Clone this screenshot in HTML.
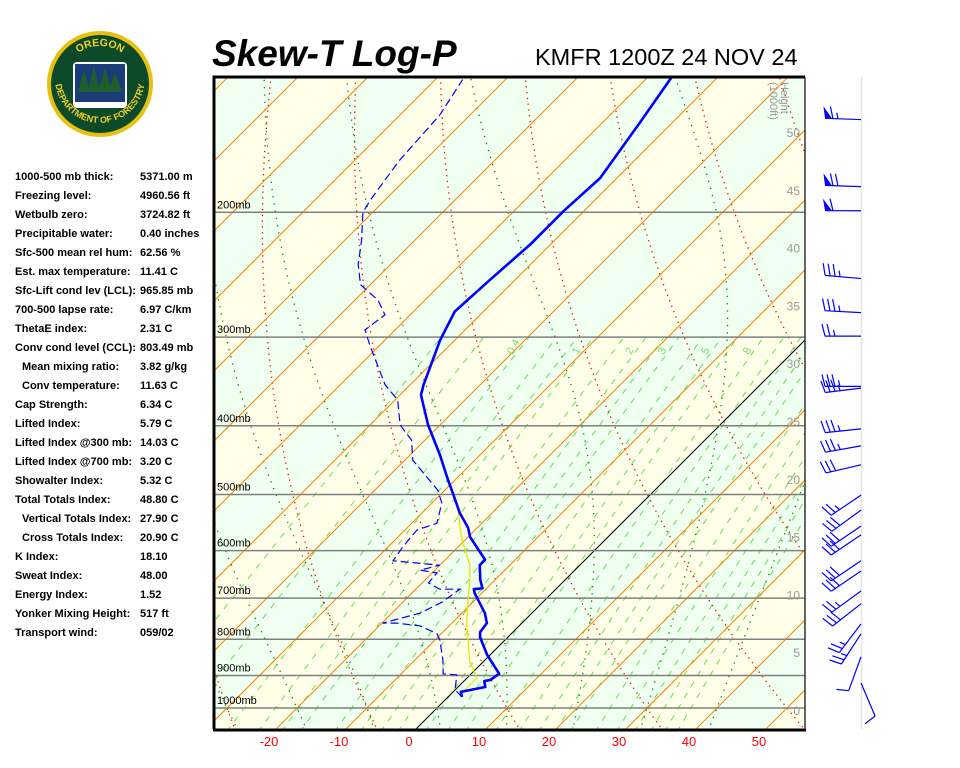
<!DOCTYPE html>
<html><head><meta charset="utf-8"><style>
html,body{margin:0;padding:0;background:#fff;width:960px;height:768px;overflow:hidden}
svg{display:block}
text{font-family:"Liberation Sans",Arial,sans-serif}
</style></head><body>
<svg id="root" width="960" height="768" viewBox="0 0 960 768" xmlns="http://www.w3.org/2000/svg">
<defs><clipPath id="plotclip"><rect x="214" y="77" width="591" height="652"/></clipPath>
<path id="arcTop" d="M 62 84 A 38 38 0 0 1 138 84"/>
<path id="arcBot" d="M 55 78 A 45 45 0 0 0 145 78"/></defs>
<g>
<circle cx="100" cy="84" r="53" fill="#e8c010"/>
<circle cx="100" cy="84" r="49" fill="#0d4a2a"/>
<text font-size="10.5" font-weight="bold" fill="#f0d020"><textPath href="#arcTop" startOffset="50%" text-anchor="middle">OREGON</textPath></text>
<text font-size="9" font-weight="bold" fill="#f0d020"><textPath href="#arcBot" startOffset="50%" text-anchor="middle">DEPARTMENT OF FORESTRY</textPath></text>
<rect x="73" y="62" width="54" height="46" fill="#fff" rx="4"/>
<rect x="75" y="64" width="50" height="28" fill="#1a3d7a"/>
<path d="M78 92 L84 70 L90 92 Z M88 92 L94 66 L100 92 Z M98 92 L105 68 L112 92 Z M108 92 L115 72 L122 92 Z" fill="#1d5e2a"/>
<rect x="75" y="92" width="50" height="10" fill="#1a3d7a"/>
</g>
<text x="212" y="66" font-size="37" font-weight="bold" font-style="italic">Skew-T Log-P</text>
<text x="535" y="65" font-size="23.5">KMFR 1200Z 24 NOV 24</text>
<g id="stats"></g>
<g id="plot"></g>
<g id="winds"></g>
</svg>
<script>
// ---------- data ----------
const tempP=[965,949,934,916,913,895,842,794,781,759,735,688,680,678,660,629,618,574,557,531,493,477,440,399,362,350,303,276,249,222,199,179,150,129];
const tempT=[2.0,1.1,3.9,2.9,3.6,4.0,-0.4,-4.0,-4.7,-5.0,-6.7,-11.1,-11.7,-10.6,-12.1,-14.3,-14.3,-19.7,-21.3,-24.6,-29.0,-31.0,-35.7,-41.7,-47.0,-48.1,-52.1,-54.1,-53.6,-52.9,-52.9,-52.4,-54.6,-56.6];
const dewP=[965,943,898,895,856,802,786,766,759,759,735,709,680,680,666,645,639,629,620,593,561,549,514,493,447,419,399,368,350,308,293,279,266,253,237,219,200,192,169,146,130];
const dewT=[2.0,0.0,-1.9,-4.0,-6.0,-9.3,-10.6,-14.1,-17.9,-19.9,-16.0,-14.4,-13.7,-16.6,-19.1,-19.3,-22.1,-20.0,-27.3,-27.9,-28.3,-26.4,-28.6,-31.0,-38.9,-41.9,-45.7,-49.6,-53.6,-61.4,-64.3,-63.6,-66.7,-71.4,-74.6,-77.6,-81.4,-82.1,-83.6,-84.3,-86.1];
const wbP=[949,907,861,759,720,660,629,583,561,521,488];
const wbT=[1.4,1.4,-1.9,-7.9,-10.1,-13.6,-15.7,-20.1,-22.1,-25.7,-29.7];
const windP=[148,184,199,248,277,299,352,354,404,427,454,501,526,554,570,620,641,684,713,761,786,847,922];
const windDir=[272,272,270,275,273,270,270,263,264,260,257,236,234,236,236,236,236,234,232,217,213,200,157];
const windSpd=[65,70,60,35,35,25,35,35,35,35,30,25,30,30,30,30,30,25,30,25,25,10,10];
const pressureLevels=[200,300,400,500,600,700,800,900,1000];
const tempTicks=[-20,-10,0,10,20,30,40,50];
const heightTicks=[0,5,10,15,20,25,30,35,40,45,50];
const mixRatios=[0.1,0.2,0.4,0.6,0.8,1,1.5,2,2.5,3,4,5,6,8,10,12,14,16,20,24,28,32,36,40];
const mixLabels=[0.4,1,2,3,5,8];
const thetaList=[-50,-30,-10,10,30,50,70,90,110,130,150,170];
const thetaWList=[-30,-20,-10,0,10,20,30,40];
const stats=[["1000-500 mb thick:","5371.00 m",0],["Freezing level:","4960.56 ft",0],["Wetbulb zero:","3724.82 ft",0],["Precipitable water:","0.40 inches",0],["Sfc-500 mean rel hum:","62.56 %",0],["Est. max temperature:","11.41 C",0],["Sfc-Lift cond lev (LCL):","965.85 mb",0],["700-500 lapse rate:","6.97 C/km",0],["ThetaE index:","2.31 C",0],["Conv cond level (CCL):","803.49 mb",0],["Mean mixing ratio:","3.82 g/kg",1],["Conv temperature:","11.63 C",1],["Cap Strength:","6.34 C",0],["Lifted Index:","5.79 C",0],["Lifted Index @300 mb:","14.03 C",0],["Lifted Index @700 mb:","3.20 C",0],["Showalter Index:","5.32 C",0],["Total Totals Index:","48.80 C",0],["Vertical Totals Index:","27.90 C",1],["Cross Totals Index:","20.90 C",1],["K Index:","18.10",0],["Sweat Index:","48.00",0],["Energy Index:","1.52",0],["Yonker Mixing Height:","517 ft",0],["Transport wind:","059/02",0]];

// ---------- axes ----------
const NS="http://www.w3.org/2000/svg";
const X0=214,X1=805,Y0=77,Y1=729;
function yP(p){return 708+308*Math.log(p/1000);}
function xTY(T,y){return 416+7*T+(729-y);}
function xTP(T,p){return xTY(T,yP(p));}
function yH(h){return 710-h*11.56;}
function mk(tag,attrs,parent){const e=document.createElementNS(NS,tag);for(const k in attrs)e.setAttribute(k,attrs[k]);parent.appendChild(e);return e;}
function ptsFrom(P,T){return P.map((p,i)=>xTP(T[i],p).toFixed(1)+","+yP(p).toFixed(1)).join(" ");}

// stats
const st=document.getElementById('stats');
stats.forEach((r,i)=>{
  const y=180+i*19;
  const a=mk('text',{x:r[2]?22:15,y:y,'font-size':11,'font-weight':'bold'},st);a.textContent=r[0];
  
  
  const b=mk('text',{x:140,y:y,'font-size':11,'font-weight':'bold'},st);b.textContent=r[1];
  
  
});

const plot=document.getElementById('plot');
const g=mk('g',{'clip-path':'url(#plotclip)'},plot);
for(let T=-180;T<=60;T+=10){
  const even=(Math.floor(T/10)%2===0);
  const poly=[xTY(T,740)+","+740,xTY(T,60)+","+60,xTY(T+10,60)+","+60,xTY(T+10,740)+","+740].join(" ");
  const b=mk('polygon',{points:poly,fill:even?'#effff0':'#ffffe9'},g);
  
  
}
function tdFromW(w,p){const e=w*p/(622+w);const l=Math.log(e/6.112);return 243.5*l/(17.67-l);}
mixRatios.forEach(w=>{
  const pts=[];for(let p=1080;p>=300;p-=20)pts.push(xTP(tdFromW(w,p),p).toFixed(1)+","+yP(p).toFixed(1));
  const l=mk('polyline',{points:pts.join(" "),fill:'none',stroke:'#66dd55','stroke-width':1,'stroke-dasharray':'6,7'},g);
  
  
});
thetaList.forEach(th=>{
  const pts=[];for(let p=1080;p>=120;p-=10){const T=(th+273.15)*Math.pow(p/1000,0.245)-273.15;pts.push(xTP(T,p).toFixed(1)+","+yP(p).toFixed(1));}
  const l=mk('polyline',{points:pts.join(" "),fill:'none',stroke:'#ff0000','stroke-width':1.3,'stroke-dasharray':'1.3,4.5'},g);
  
  
});
function es(T){return 6.112*Math.exp(17.67*T/(T+243.5));}
function dTdp(T,p){const Tk=T+273.15;const rs=0.622*es(T)/(p-es(T));const L=2.5e6,Rd=287,cp=1004;return (Rd*Tk+L*rs)/(cp+L*L*rs*0.622/(Rd*Tk*Tk))/p;}
thetaWList.forEach(tw=>{
  const up=[];let T=tw;for(let p=1000;p>=120;p-=5){up.push([p,T]);T-=dTdp(T,p)*5;}
  const dn=[];T=tw;for(let p=1000;p<=1080;p+=5){dn.push([p,T]);T+=dTdp(T,p)*5;}
  const all=dn.reverse().concat(up.slice(1));
  const pts=all.map(a=>xTP(a[1],a[0]).toFixed(1)+","+yP(a[0]).toFixed(1)).join(" ");
  const l=mk('polyline',{points:pts,fill:'none',stroke:'#008800','stroke-width':1.3,'stroke-dasharray':'1.3,6'},g);
  
  
});
for(let T=-180;T<=60;T+=10){
  const l=mk('line',{x1:xTY(T,740),y1:740,x2:xTY(T,60),y2:60,stroke:T===0?'#000':'#ff8000','stroke-width':1},g);
  
  
}
pressureLevels.forEach(p=>{
  const y=yP(p);
  const l=mk('line',{x1:X0,y1:y,x2:X1,y2:y,stroke:'#808080','stroke-width':1.5},g);
  
  
  const t=mk('text',{x:217,y:y-4,'font-size':11,fill:'#000'},g);t.textContent=p+"mb";
  
  
});
mixLabels.forEach(w=>{
  const p=318,x=xTP(tdFromW(w,p),p)-2,y=yP(p);
  const t=mk('text',{x:x,y:y,'font-size':11,fill:'#77dd66',transform:`rotate(-62 ${x} ${y})`},g);t.textContent=String(w);
  
  
});
heightTicks.forEach(h=>{
  const t=mk('text',{x:800,y:yH(h)+5,'font-size':12,fill:'#999','text-anchor':'end'},g);t.textContent=String(h);
  
  
});
const ht=mk('text',{x:781,y:82,'font-size':11,fill:'#999',transform:'rotate(90 781 82)'},g);ht.textContent="Height";


const ht2=mk('text',{x:770,y:82,'font-size':11,fill:'#999',transform:'rotate(90 770 82)'},g);ht2.textContent="(1000ft)";


const wb=mk('polyline',{points:ptsFrom(wbP,wbT),fill:'none',stroke:'#e8e800','stroke-width':1.3},g);


const dp=mk('polyline',{points:ptsFrom(dewP,dewT),fill:'none',stroke:'#0000ff','stroke-width':1.2,'stroke-dasharray':'8,4'},g);


const tp=mk('polyline',{points:ptsFrom(tempP,tempT),fill:'none',stroke:'#0000ff','stroke-width':2.6,'stroke-linejoin':'round'},g);


const fr=mk('path',{d:`M${X0} ${Y1} L${X0} ${Y0} L${X1} ${Y0}`,fill:'none',stroke:'#000','stroke-width':3},plot);


const fb=mk('line',{x1:X0-1,y1:Y1+1,x2:X1+1,y2:Y1+1,stroke:'#000','stroke-width':3},plot);


const frr=mk('line',{x1:X1,y1:Y0,x2:X1,y2:Y1,stroke:'#333','stroke-width':1.5},plot);


tempTicks.forEach(T=>{
  const t=mk('text',{x:xTY(T,Y1)-7,y:746,'font-size':13,fill:'#ff0000','text-anchor':'middle'},plot);t.textContent=String(T);
  
  
});
const wg=document.getElementById('winds');
const sep=mk('line',{x1:861.5,y1:77,x2:861.5,y2:729,stroke:'#e6e6e6','stroke-width':1.5},wg);


windP.forEach((p,i)=>{
  const d=windDir[i]*Math.PI/180,ux=Math.sin(d),uy=-Math.cos(d);
  const px=-uy,py=ux; const L=36;
  const bx=861,by=yP(p),tx=bx+ux*L,ty=by+uy*L;
  let path=`M${bx} ${by} L${tx.toFixed(1)} ${ty.toFixed(1)}`;
  let s=windSpd[i],k=0;
  const bar=mk('g',{},wg);
  
  
  while(s>=50){const ax=tx-ux*k*5,ay=ty-uy*k*5;
    mk('polygon',{points:`${ax},${ay} ${ax+px*12+ux*2},${ay+py*12+uy*2} ${ax-ux*7},${ay-uy*7}`,fill:'#0000ff'},bar);
    s-=50;k+=1.6;}
  while(s>=10){const ax=tx-ux*k*5,ay=ty-uy*k*5;path+=` M${ax.toFixed(1)} ${ay.toFixed(1)} l${(px*12+ux*3).toFixed(1)} ${(py*12+uy*3).toFixed(1)}`;s-=10;k++;}
  if(s>=5){const ax=tx-ux*k*5,ay=ty-uy*k*5;path+=` M${ax.toFixed(1)} ${ay.toFixed(1)} l${(px*6+ux*1.5).toFixed(1)} ${(py*6+uy*1.5).toFixed(1)}`;}
  mk('path',{d:path,fill:'none',stroke:'#0000ff','stroke-width':1.2},bar);
});
</script>
</body></html>
